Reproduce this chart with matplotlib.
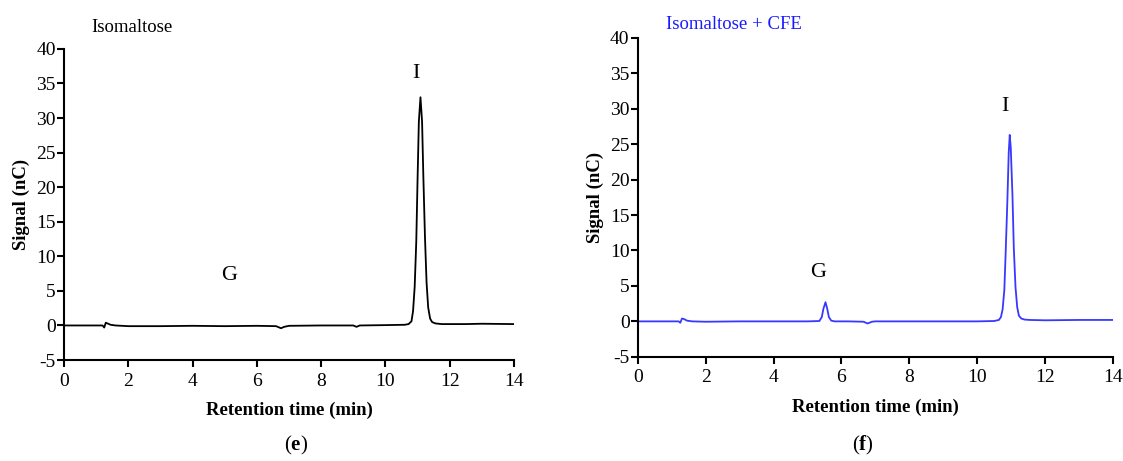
import matplotlib
matplotlib.use("Agg")
import matplotlib.pyplot as plt

plt.rcParams['font.family'] = ['Liberation Serif', 'DejaVu Serif']
plt.rcParams['mathtext.fontset'] = 'custom'
plt.rcParams['mathtext.rm'] = 'Liberation Serif'
plt.rcParams['mathtext.bf'] = 'Liberation Serif:bold'

# chromatogram (e): Isomaltose
t_e = [0, 0.5, 1.0, 1.2, 1.25, 1.3, 1.35, 1.45, 1.6, 2.0, 3.0, 4.0, 5.0, 6.0, 6.6, 6.75, 6.85, 7.0,
       8.0, 9.0, 9.1, 9.2, 10.0, 10.6, 10.72, 10.81, 10.86, 10.91, 10.96, 11.0, 11.04, 11.09,
       11.14, 11.18, 11.23, 11.28, 11.33, 11.39, 11.45, 11.55, 11.75, 12.5, 13.0, 14.0]
s_e = [0, 0, 0, 0.0, -0.3, 0.4, 0.3, 0.1, 0.0, -0.1, -0.1, -0.05, -0.1, -0.05, -0.1, -0.4, -0.2, -0.05,
       0.0, 0.0, -0.2, 0.0, 0.05, 0.1, 0.2, 0.6, 2.1, 5.6, 12.2, 21.2, 29.5, 33.0,
       29.5, 21.5, 12.8, 6.2, 2.6, 1.0, 0.5, 0.3, 0.2, 0.2, 0.25, 0.2]

# chromatogram (f): Isomaltose + CFE
t_f = [0, 0.5, 1.0, 1.2, 1.25, 1.3, 1.35, 1.45, 1.6, 2.0, 3.0, 4.0, 5.0, 5.35, 5.42, 5.47, 5.53,
       5.58, 5.63, 5.7, 5.8, 6.2, 6.65, 6.77, 6.9, 7.0, 8.0, 9.0, 10.0, 10.5, 10.64, 10.7, 10.75,
       10.8, 10.84, 10.89, 10.93, 10.96, 10.99, 11.04, 11.08, 11.13, 11.18, 11.23, 11.3, 11.4,
       11.55, 12.0, 13.0, 14.0]
s_f = [0, 0, 0, 0.0, -0.2, 0.4, 0.35, 0.1, 0.0, -0.05, 0.0, 0.0, 0.0, 0.05, 0.6, 1.8, 2.7,
       1.8, 0.6, 0.1, 0.0, 0.0, -0.05, -0.3, -0.05, 0.0, 0.0, 0.0, 0.0, 0.05, 0.2, 0.6, 1.7,
       4.4, 9.7, 17.0, 23.8, 26.3, 24.5, 17.8, 10.3, 4.8, 2.0, 0.8, 0.4, 0.25,
       0.2, 0.15, 0.2, 0.2]

titles = ["Isomaltose", "Isomaltose + CFE"]
title_colors = ["black", "#1a1aff"]
panel_tags = [r"($\mathbf{e}$)", r"($\mathbf{f}$)"]
peak_labels_e = [("G", 5.15, 5.8), ("I", 10.95, 35.0)]
peak_labels_f = [("G", 5.3, 5.5), ("I", 10.82, 29.0)]

fig = plt.figure(figsize=(11.23, 4.61), dpi=100)
ax1 = fig.add_axes([0.057, 0.219, 0.4007, 0.675])
ax2 = fig.add_axes([0.568, 0.226, 0.423, 0.692])

yticks = [-5, 0, 5, 10, 15, 20, 25, 30, 35, 40]
setup = [(ax1, t_e, s_e, 'black', 0, peak_labels_e, 1.07),
         (ax2, t_f, s_f, '#3838ff', 1, peak_labels_f, 1.041)]
for ax, t, s, col, i, labels, ty in setup:
    ax.plot(t, s, color=col, lw=1.3)
    ax.set_xlim(0, 14)
    ax.set_ylim(-5, 40)
    ax.set_xticks(range(0, 15, 2))
    ax.set_yticks(yticks)
    ax.set_yticklabels([str(v) for v in yticks])
    for sp in ['top', 'right']:
        ax.spines[sp].set_visible(False)
    for sp in ['left', 'bottom']:
        ax.spines[sp].set_linewidth(1.5)
    ax.tick_params(direction='out', length=5, width=1.5, labelsize=14)
    ax.tick_params(axis='x', pad=4)
    ax.tick_params(axis='y', pad=1)
    ax.set_xlabel("Retention time (min)", fontsize=13.5, fontweight='bold', labelpad=9)
    ax.set_ylabel("Signal (nC)", fontsize=13.5, fontweight='bold', labelpad=4)
    ax.text(0.06, ty, titles[i], transform=ax.transAxes, fontsize=13.5,
            color=title_colors[i], ha='left', va='center')
    for name, x, y in labels:
        ax.text(x, y, name, fontsize=16, ha='center', va='bottom')

fig.text(0.264, 0.033, panel_tags[0], fontsize=15, ha='center', va='center')
fig.text(0.768, 0.033, panel_tags[1], fontsize=15, ha='center', va='center')

fig.savefig("out.png", dpi=100)
